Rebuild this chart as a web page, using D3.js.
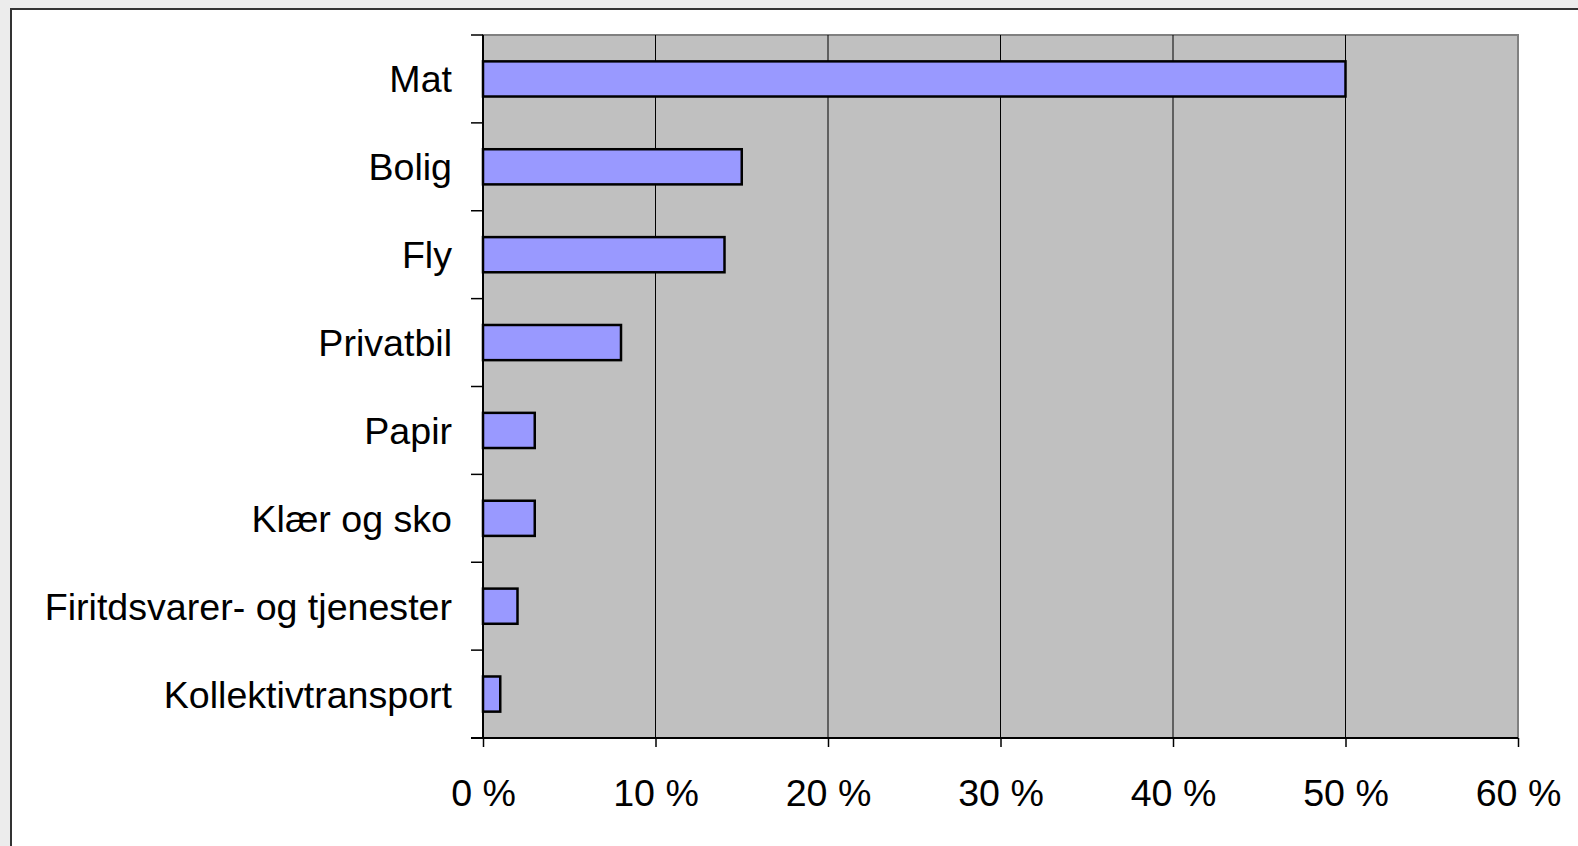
<html>
<title>Andel av utslipp</title>
<script src="https://d3js.org/d3.v7.min.js"></script>
<style>
	body { margin: 0; background-color: #ececec; overflow: hidden; }
	text { font-family: "Liberation Sans", Arial, Helvetica, sans-serif; fill: black; }
</style>
<body>
<svg id="container" width="1578" height="846"></svg>
<script>
// data
var categories = ["Mat", "Bolig", "Fly", "Privatbil", "Papir", "Klær og sko",
                  "Firitdsvarer- og tjenester", "Kollektivtransport"];
var shares = [50, 15, 14, 8, 3, 3, 2, 1];
var xTicks = [0, 10, 20, 30, 40, 50, 60];

var svg = d3.select("#container");

// white chart sheet with dark frame (runs off the right and bottom)
svg.append("rect")
	.attr("x", 11).attr("y", 9)
	.attr("width", 1600).attr("height", 900)
	.attr("fill", "white")
	.attr("stroke", "#333").attr("stroke-width", 2);

var plotLeft = 483, plotRight = 1518, plotTop = 35, plotBottom = 738;

var x = d3.scaleLinear().domain([0, 60]).range([plotLeft, plotRight]);
var yBand = d3.scaleBand().domain(categories).range([plotTop, plotBottom]);

// plot area
svg.append("rect")
	.attr("x", plotLeft).attr("y", plotTop)
	.attr("width", plotRight - plotLeft).attr("height", plotBottom - plotTop)
	.attr("fill", "#c0c0c0")
	.attr("stroke", "#808080").attr("stroke-width", 2);

// gridlines
svg.append("g")
	.selectAll("line")
	.data(xTicks.slice(1, -1))
	.join("line")
		.attr("x1", d => x(d)).attr("x2", d => x(d))
		.attr("y1", plotTop).attr("y2", plotBottom)
		.attr("stroke", "black").attr("stroke-width", 1);

// bars
svg.append("g")
	.selectAll("rect")
	.data(categories)
	.join("rect")
		.attr("x", x(0))
		.attr("y", d => yBand(d) + yBand.bandwidth() * 0.3)
		.attr("width", (d, i) => x(shares[i]) - x(0))
		.attr("height", yBand.bandwidth() * 0.4)
		.attr("fill", "#9999ff")
		.attr("stroke", "black").attr("stroke-width", 2.5);

// x axis
var xAxis = svg.append("g")
	.attr("transform", "translate(0," + plotBottom + ")")
	.call(d3.axisBottom(x).tickValues(xTicks).tickFormat(d => d + " %")
		.tickSize(9).tickPadding(32).tickSizeOuter(0));
xAxis.select(".domain").attr("stroke", "black").attr("stroke-width", 2)
	.attr("d", "M" + (plotLeft - 12) + ",0H" + plotRight);
xAxis.selectAll(".tick line").attr("stroke", "black").attr("stroke-width", 1.5);
xAxis.selectAll("text").style("font-size", "37.6px").attr("dy", "0.71em")
	.style("font-family", "'Liberation Sans', Arial, sans-serif");

// y axis: band separators and category labels
var yAxis = svg.append("g").attr("transform", "translate(" + plotLeft + ",0)");
yAxis.append("line")
	.attr("x1", 0).attr("x2", 0).attr("y1", plotTop).attr("y2", plotBottom)
	.attr("stroke", "black").attr("stroke-width", 2);
yAxis.selectAll(".sep")
	.data(categories)
	.join("line")
		.attr("class", "sep")
		.attr("x1", -12).attr("x2", 0)
		.attr("y1", d => yBand(d)).attr("y2", d => yBand(d))
		.attr("stroke", "black").attr("stroke-width", 1.5);
yAxis.selectAll(".lab")
	.data(categories)
	.join("text")
		.attr("class", "lab")
		.attr("x", -31)
		.attr("y", d => yBand(d) + yBand.bandwidth() / 2)
		.attr("dy", "0.36em")
		.attr("text-anchor", "end")
		.style("font-size", "37.6px")
		.text(d => d);
</script>
</body>
</html>
